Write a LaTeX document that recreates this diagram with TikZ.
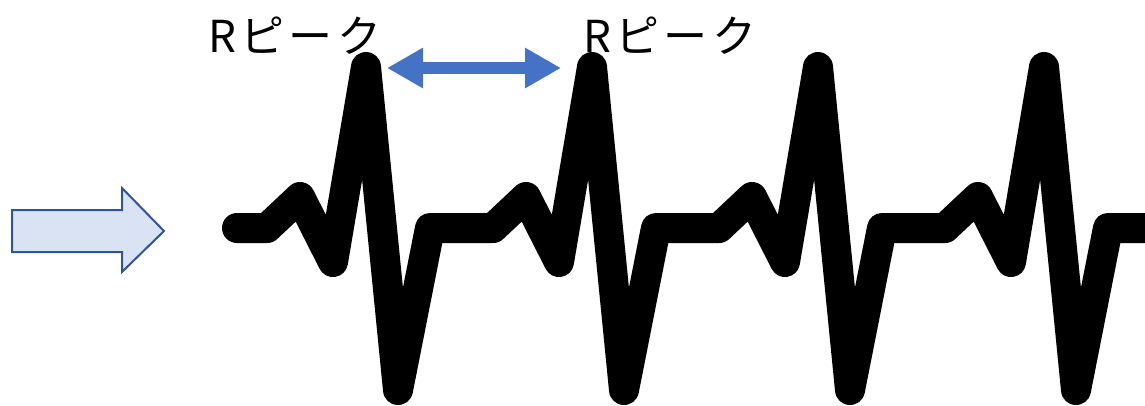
\documentclass[tikz,border=0pt]{standalone}
\usepackage{fontspec}
\newfontfamily\jpfont[LetterSpace=10]{Noto Sans CJK JP}
\usetikzlibrary{arrows.meta}
\definecolor{officeblue}{HTML}{4472C4}
\definecolor{arrowfill}{HTML}{DAE3F3}
\definecolor{arrowedge}{HTML}{2F5597}

\begin{document}
\begin{tikzpicture}[
  x=1pt, y=-1pt,
  ecg/.style={line width=30pt,line join=round,line cap=round},
  peaklabel/.style={anchor=base west,inner sep=0pt,font=\jpfont\fontsize{44}{44}\selectfont},
  interval/.style={officeblue,line width=12pt,
    {Triangle[length=36pt,width=38pt]}-{Triangle[length=36pt,width=38pt]}},
  inputarrow/.style={draw=arrowedge,fill=arrowfill,line width=2pt,line join=miter}]
  \useasboundingbox (0,0) rectangle (1145,405);
  % input arrow
  \draw[inputarrow] (12,210) -- (122,210) -- (122,188) -- (164,231)
    -- (122,272) -- (122,252) -- (12,252) -- cycle;
  % heartbeat trace
  \begin{scope}
    \clip (0,0) rectangle (1145,405);
    \draw[ecg] (237,228)
      foreach \r in {366,592,818,1044}{
        -- (\r-99,228) -- (\r-66,197) -- (\r-33,262) -- (\r,67)
        -- (\r+32,390) -- (\r+64,228)}
      -- (1170,228);
  \end{scope}
  % labels
  \node[peaklabel] (peakA) at (208,52) {Rピーク};
  \node[peaklabel] (peakB) at (583,52) {Rピーク};
  % R-R interval
  \coordinate (gapL) at (387,68);
  \coordinate (gapR) at (561,68);
  \draw[interval] (gapL) -- (gapR);
\end{tikzpicture}
\end{document}
